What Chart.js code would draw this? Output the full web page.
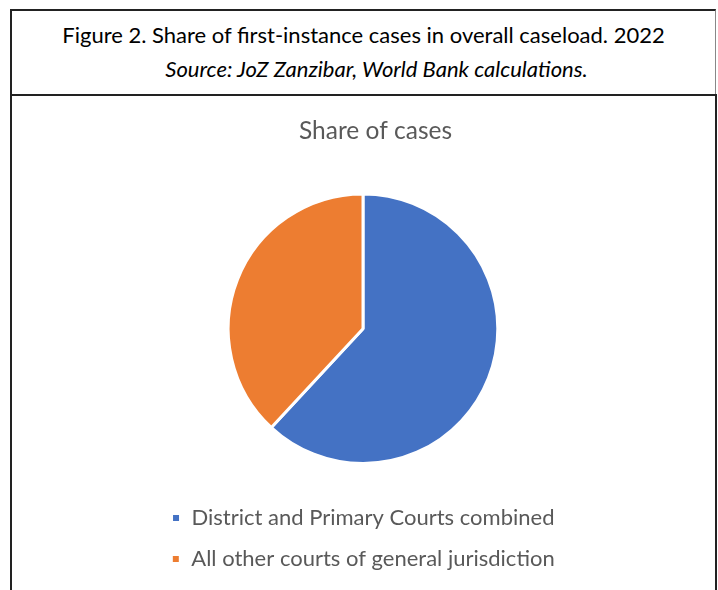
<!DOCTYPE html>
<html>
<head>
<meta charset="utf-8">
<script src="https://cdn.jsdelivr.net/npm/chart.js@4"></script>
<style>
  body { margin: 0; background: #fff; width: 718px; height: 590px; overflow: hidden; position: relative; font-family: Lato, "Open Sans", sans-serif; }
  #caption {
    position: absolute; left: 10px; top: 9px; width: 703px; height: 83px;
    border-top: 2px solid #222; border-left: 2px solid #222; border-right: 1px solid #888;
    border-bottom: 2px solid #222; text-align: center; color: #000;
  }
  #caption .l1 { position: absolute; left: 0; right: 0; top: 10px; font-size: 22px; }
  #caption .l2 { position: absolute; left: 26px; right: 0; top: 44px; font-size: 22px; font-style: italic; }
  #frame {
    position: absolute; left: 10px; top: 94px; width: 703px; height: 500px;
    border-left: 2px solid #222; border-right: 2px solid #222;
  }
  #wrap { position: absolute; left: 13px; top: 96px; width: 700px; height: 494px; }
</style>
</head>
<body>
<div id="caption">
  <div class="l1">Figure 2. Share of first-instance cases in overall caseload. 2022</div>
  <div class="l2">Source: JoZ Zanzibar, World Bank calculations.</div>
</div>
<div id="frame"></div>
<div id="wrap"><canvas id="pie"></canvas></div>
<script>
  // chart data
  const categories = ["District and Primary Courts combined", "All other courts of general jurisdiction"];
  const shares = [61.9, 38.1];
  const colors = ["#4472C4", "#ED7D31"];
  const chartTitle = "Share of cases";

  const font = "Lato, 'Open Sans', sans-serif";
  const ctx = document.getElementById("pie").getContext("2d");
  new Chart(ctx, {
    type: "pie",
    data: {
      labels: categories,
      datasets: [{
        data: shares,
        backgroundColor: colors,
        borderColor: "#ffffff",
        borderWidth: 3,
      }],
    },
    options: {
      responsive: true,
      maintainAspectRatio: false,
      animation: false,
      layout: { padding: { top: 0, bottom: 10 } },
      plugins: {
        title: {
          display: true,
          // leading spaces nudge the title a bit right of the pie, as in the original
          text: "\u00a0\u00a0\u00a0\u00a0" + chartTitle,
          color: "#595959",
          font: { family: font, size: 24.5, weight: "normal" },
          padding: { top: 20, bottom: 47 },
        },
        legend: {
          position: "bottom",
          // empty title used as a spacer between pie and legend
          title: { display: true, text: " ", font: { size: 1, lineHeight: 1 }, padding: { top: 11, bottom: 11 } },
          labels: {
            color: "#595959",
            font: { family: font, size: 22 },
            boxWidth: 9,
            boxHeight: 9,
            padding: 19,
          },
        },
        tooltip: { enabled: false },
      },
    },
  });
</script>
</body>
</html>
